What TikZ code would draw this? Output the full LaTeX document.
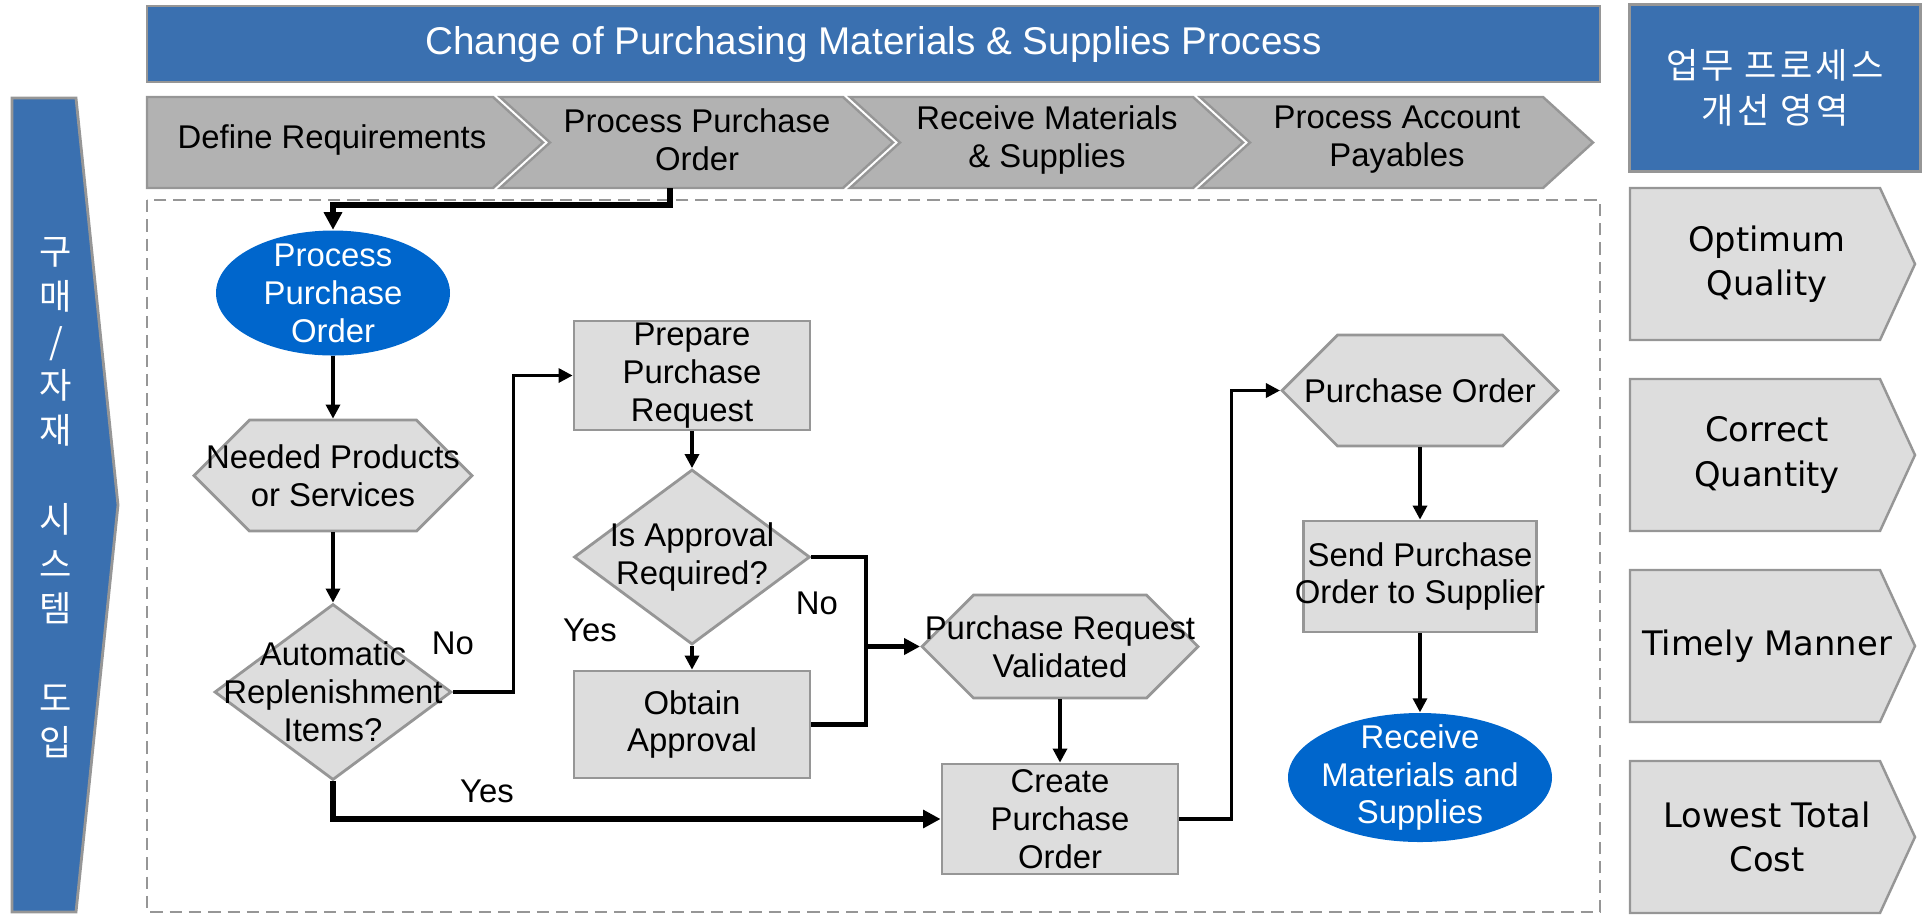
\documentclass[tikz,border=0pt]{standalone}
\usepackage{fontspec}
\usepackage{tikz}
\usetikzlibrary{shapes.geometric}
\usetikzlibrary{shapes.symbols}
\usetikzlibrary{arrows.meta}
\setmainfont{Liberation Sans}
\newfontfamily\hangul{Noto Sans CJK KR}
\newfontfamily\hangulwide[LetterSpace=9]{Noto Sans CJK KR}
\newfontfamily\widesans{DejaVu Sans}
\definecolor{headblue}{RGB}{58,112,176}
\definecolor{flowblue}{RGB}{0,102,204}
\definecolor{stepgray}{RGB}{178,178,178}
\definecolor{boxgray}{RGB}{221,221,221}
\definecolor{edgegray}{RGB}{150,150,150}

\tikzset{
	txt/.style={font=\fontsize{9.35}{10.8}\selectfont, align=center, inner sep=0pt},
	wtxt/.style={txt, text=white},
	goaltxt/.style={font=\widesans\fontsize{9.6}{12.6}\selectfont, align=center, inner sep=0pt},
	stepshape/.style={fill=stepgray, draw=edgegray, line width=0.7pt},
	goalshape/.style={fill=boxgray, draw=edgegray, line width=0.7pt},
	proc/.style={rectangle, fill=boxgray, draw=edgegray, line width=0.8pt, inner sep=0pt},
	hexa/.style={signal, signal to=east and west, signal pointer angle=90, fill=boxgray, draw=edgegray, line width=0.8pt, inner sep=0pt},
	decision/.style={diamond, fill=boxgray, draw=edgegray, line width=0.8pt, inner sep=0pt},
	terminal/.style={ellipse, fill=flowblue, inner sep=0pt},
	flowline/.style={line width=0.9pt, -{Triangle[length=4pt,width=4pt]}},
	midline/.style={line width=1.3pt},
	boldline/.style={line width=1.8pt, -{Triangle[length=5pt,width=5pt]}}
}

\begin{document}
\begin{tikzpicture}
	\useasboundingbox (0,0) rectangle (19.27,-9.14);
	
	% Title bar
	\node[fill=headblue, draw=edgegray, line width=0.8pt, minimum width=14.53cm, minimum height=0.76cm, inner sep=0pt, text=white, font=\fontsize{11}{13}\selectfont] (title) at (8.735,-0.44) {Change of Purchasing Materials \& Supplies Process};
	
	% Left bar
	\draw[fill=headblue, draw=edgegray, line width=0.8pt] (0.12,-0.98) -- (0.76,-0.98) -- (1.18,-5.05) -- (0.76,-9.12) -- (0.12,-9.12) -- cycle;
	\node[font=\hangul\fontsize{10}{12.7}\selectfont, text=white, align=center, inner sep=0pt] (sysintro) at (0.56,-4.98) {구\\매\\/\\자\\재\\[12.7pt]시\\스\\템\\[12.7pt]도\\입};
	
	% Step chevrons
	\pgfmathsetmacro{\stepTop}{-0.97}
	\pgfmathsetmacro{\stepBot}{-1.88}
	\pgfmathsetmacro{\stepMid}{-1.425}
	\draw[stepshape] (1.47,\stepTop) -- (4.93,\stepTop) -- (5.43,\stepMid) -- (4.93,\stepBot) -- (1.47,\stepBot) -- cycle;
	\foreach \x in {5.00,8.50,12.00} {
		\draw[stepshape] (\x,\stepTop) -- (\x+3.43,\stepTop) -- (\x+3.93,\stepMid) -- (\x+3.43,\stepBot) -- (\x,\stepBot) -- (\x+0.50,\stepMid) -- cycle;
	}
	\node[txt] (defreq) at (3.32,-1.40) {Define Requirements};
	\node[txt] (procpo) at (6.97,-1.40) {Process Purchase\\Order};
	\node[txt] (recvms) at (10.47,-1.40) {Receive Materials\\\& Supplies};
	\node[txt] (procap) at (13.97,-1.40) {Process Account\\Payables};
	
	% Improvement areas
	\node[fill=headblue, draw=edgegray, line width=0.8pt, minimum width=2.91cm, minimum height=1.67cm, inner sep=0pt, text=white, align=center, font=\hangulwide\fontsize{10}{12.8}\selectfont] (goalhead) at (17.75,-0.88) {업무 프로세스\\개선 영역};
	\foreach \y/\goal [count=\i] in {1.88/{Optimum\\Quality}, 3.79/{Correct\\Quantity}, 5.70/{Timely Manner}, 7.61/{Lowest Total\\Cost}} {
		\draw[goalshape] (16.30,-\y) -- (18.80,-\y) -- (19.15,-\y-0.76) -- (18.80,-\y-1.52) -- (16.30,-\y-1.52) -- cycle;
		\node[goaltxt] (goal\i) at (17.67,-\y-0.76) {\goal};
	}
	
	% Process frame
	\draw[edgegray, dash pattern=on 3.5pt off 2pt, line width=0.8pt] (1.47,-2.00) rectangle (16.00,-9.12);
	
	% Flow nodes
	\node[terminal, minimum width=2.34cm, minimum height=1.25cm, label={[wtxt]center:Process\\Purchase\\Order}] (ppo) at (3.33,-2.93) {};
	\node[hexa, minimum width=2.78cm, minimum height=1.11cm, label={[txt]center:Needed Products\\or Services}] (need) at (3.33,-4.755) {};
	\node[decision, minimum width=2.37cm, minimum height=1.76cm, label={[txt]center:Automatic\\Replenishment\\Items?}] (auto) at (3.33,-6.92) {};
	\node[proc, minimum width=2.36cm, minimum height=1.09cm, label={[txt]center:Prepare\\Purchase\\Request}] (prep) at (6.92,-3.755) {};
	\node[decision, minimum width=2.36cm, minimum height=1.75cm, label={[txt]center:Is Approval\\Required?}] (appr) at (6.92,-5.57) {};
	\node[proc, minimum width=2.36cm, minimum height=1.07cm, label={[txt]center:Obtain\\Approval}] (obtain) at (6.92,-7.245) {};
	\node[hexa, minimum width=2.76cm, minimum height=1.03cm, label={[txt]center:Purchase Request\\Validated}] (prv) at (10.60,-6.465) {};
	\node[proc, minimum width=2.36cm, minimum height=1.10cm, label={[txt]center:Create\\Purchase\\Order}] (create) at (10.60,-8.19) {};
	\node[hexa, minimum width=2.76cm, minimum height=1.11cm, label={[txt]center:Purchase Order}] (po) at (14.20,-3.905) {};
	\node[proc, minimum width=2.33cm, minimum height=1.11cm, label={[txt]center:Send Purchase\\Order to Supplier}] (send) at (14.20,-5.765) {};
	\node[terminal, minimum width=2.64cm, minimum height=1.29cm, label={[wtxt]center:Receive\\Materials and\\Supplies}] (rms) at (14.20,-7.775) {};
	
	% Connectors
	\coordinate (poStart) at (6.70,-1.88);
	\coordinate (merge) at (8.66,-6.465);
	\draw[boldline] (poStart) -- ++(0,-0.17) -| (ppo.north);
	\draw[flowline] (ppo.south) -- (need.north);
	\draw[flowline] (need.south) -- (auto.north);
	\draw[flowline] (auto.east) -- ++(0.61,0) |- (prep.west);
	\draw[boldline] (auto.south) |- (create.west);
	\draw[flowline] (prep.south) -- (appr.north);
	\draw[flowline] (appr.south) -- (obtain.north);
	\draw[midline] (appr.east) -| (merge);
	\draw[midline] (obtain.east) -| (merge);
	\draw[midline, -{Triangle[length=4.5pt,width=4.5pt]}] (merge) -- (prv.west);
	\draw[flowline] (prv.south) -- (create.north);
	\draw[flowline] (create.east) -- ++(0.52,0) |- (po.west);
	\draw[flowline] (po.south) -- (send.north);
	\draw[flowline] (send.south) -- (rms.north);
	
	% Branch labels
	\node[txt] (noA) at (4.53,-6.43) {No};
	\node[txt] (yesA) at (4.87,-7.91) {Yes};
	\node[txt] (yesB) at (5.90,-6.30) {Yes};
	\node[txt] (noB) at (8.17,-6.03) {No};
	
\end{tikzpicture}
\end{document}
